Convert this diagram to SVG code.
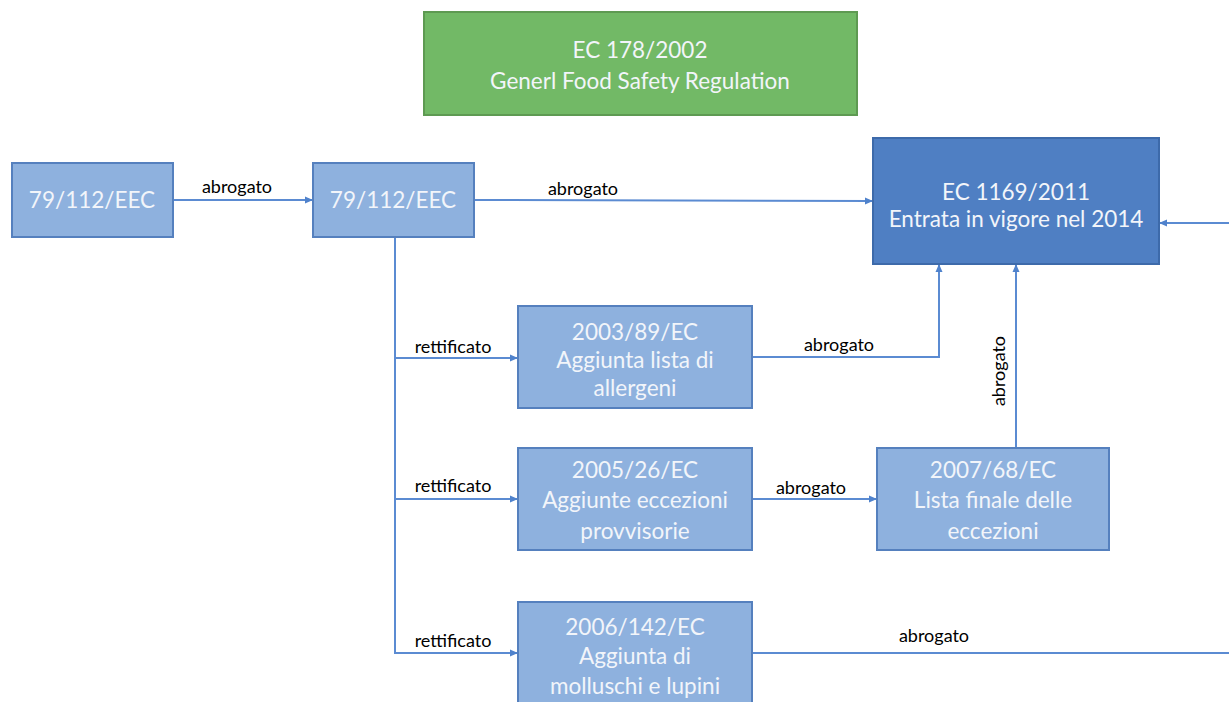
<svg xmlns="http://www.w3.org/2000/svg" width="1229" height="702" viewBox="0 0 1229 702">
<style>
.box{fill:#8EB1DE;stroke:#5580BE;stroke-width:2}
.main{fill:#4F7FC3;stroke:#3D6AAA;stroke-width:2}
.green{fill:#72B966;stroke:#5E9A52;stroke-width:2}
.t{font-family:Lato,"Open Sans","Liberation Sans",sans-serif;font-size:22.5px;fill:#F2F5FA;text-anchor:middle}
.lbl{font-family:Lato,"Open Sans","Liberation Sans",sans-serif;font-size:18px;fill:#000;text-anchor:middle}
.c{fill:none;stroke:#5B8BD2;stroke-width:2}
</style>
<defs>
<marker id="ah" markerWidth="8" markerHeight="8" refX="7" refY="4" orient="auto" markerUnits="userSpaceOnUse">
<path d="M0,0.5 L8,4 L0,7.5 Z" fill="#4F82CC"/>
</marker>
</defs>
<rect width="1229" height="702" fill="#FFFFFF"/>
<g id="connectors">
<line class="c" x1="173" y1="200" x2="312" y2="200" marker-end="url(#ah)"/>
<line class="c" x1="474" y1="200" x2="872" y2="201" marker-end="url(#ah)"/>
<polyline class="c" points="395,237 395,653 517,653" marker-end="url(#ah)"/>
<line class="c" x1="395" y1="358" x2="517" y2="358" marker-end="url(#ah)"/>
<line class="c" x1="395" y1="499" x2="517" y2="499" marker-end="url(#ah)"/>
<polyline class="c" points="752,357 939,357 939,265" marker-end="url(#ah)"/>
<line class="c" x1="752" y1="499" x2="876" y2="499" marker-end="url(#ah)"/>
<line class="c" x1="1016" y1="447" x2="1016" y2="265" marker-end="url(#ah)"/>
<line class="c" x1="752" y1="653" x2="1229" y2="653"/>
<line class="c" x1="1229" y1="223" x2="1160" y2="223" marker-end="url(#ah)"/>
<text class="lbl" x="237" y="193">abrogato</text>
<text class="lbl" x="583" y="195">abrogato</text>
<text class="lbl" x="453" y="353">rettificato</text>
<text class="lbl" x="453" y="492">rettificato</text>
<text class="lbl" x="453" y="647">rettificato</text>
<text class="lbl" x="839" y="351">abrogato</text>
<text class="lbl" x="811" y="494">abrogato</text>
<text class="lbl" x="934" y="642">abrogato</text>
<text class="lbl" transform="translate(1005,371) rotate(-90)">abrogato</text>
</g>
<g id="gfsr">
<rect class="green" x="424" y="12" width="433" height="103"/>
<text class="t" x="640" y="58">EC 178/2002</text>
<text class="t" x="640" y="89">Generl Food Safety Regulation</text>
</g>
<g id="n1">
<rect class="box" x="12" y="163" width="161" height="74"/>
<text class="t" x="92" y="208">79/112/EEC</text>
</g>
<g id="n2">
<rect class="box" x="313" y="163" width="161" height="74"/>
<text class="t" x="393" y="208">79/112/EEC</text>
</g>
<g id="ec1169">
<rect class="main" x="873" y="138" width="286" height="126"/>
<text class="t" x="1016" y="200">EC 1169/2011</text>
<text class="t" x="1016" y="227">Entrata in vigore nel 2014</text>
</g>
<g id="n2003">
<rect class="box" x="518" y="306" width="234" height="102"/>
<text class="t" x="635" y="340">2003/89/EC</text>
<text class="t" x="635" y="368">Aggiunta lista di</text>
<text class="t" x="635" y="396">allergeni</text>
</g>
<g id="n2005">
<rect class="box" x="518" y="448" width="234" height="102"/>
<text class="t" x="635" y="478">2005/26/EC</text>
<text class="t" x="635" y="508">Aggiunte eccezioni</text>
<text class="t" x="635" y="539">provvisorie</text>
</g>
<g id="n2007">
<rect class="box" x="877" y="448" width="232" height="102"/>
<text class="t" x="993" y="478">2007/68/EC</text>
<text class="t" x="993" y="508">Lista finale delle</text>
<text class="t" x="993" y="539">eccezioni</text>
</g>
<g id="n2006">
<rect class="box" x="518" y="602" width="234" height="110"/>
<text class="t" x="635" y="635">2006/142/EC</text>
<text class="t" x="635" y="664">Aggiunta di</text>
<text class="t" x="635" y="694">molluschi e lupini</text>
</g>
</svg>
